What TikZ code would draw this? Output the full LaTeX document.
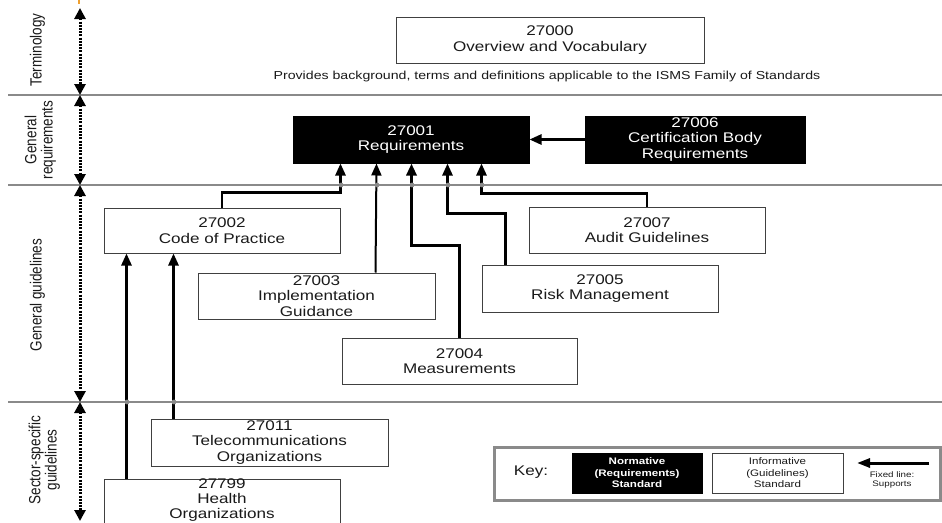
\documentclass[tikz,border=0pt]{standalone}
\usepackage{graphicx}
\usepackage{fontspec}
\setmainfont{Liberation Sans}[FakeStretch=1.22]
\newfontfamily\rotfont{Liberation Sans}
\usetikzlibrary{arrows.meta}
\definecolor{sepgray}{HTML}{8A8A8A}
\definecolor{boxline}{HTML}{404040}
\definecolor{txt}{HTML}{1A1A1A}
\definecolor{orangemark}{HTML}{F0A030}
\newcommand\rotlab[1]{\scalebox{1}[1.2]{\rotfont\fontsize{13.5}{12.5}\selectfont\begin{tabular}{@{}c@{}}#1\end{tabular}}}
\begin{document}
\begin{tikzpicture}[x=1pt,y=-1pt,
  stdbox/.style={draw=boxline, line width=1pt, fill=white, align=center, inner sep=0pt, text=txt, font=\fontsize{14}{15.5}\selectfont},
  normbox/.style={draw=black, line width=1pt, fill=black, align=center, inner sep=0pt, text=white, font=\fontsize{14}{15.5}\selectfont},
  sepline/.style={draw=sepgray, line width=2pt},
  dotarrow/.style={line width=3pt, dash pattern=on 2pt off 1.2pt, {Triangle[width=11pt,length=11pt]}-{Triangle[width=11pt,length=11pt]}},
  conn/.style={line width=2.6pt, -{Triangle[width=10pt,length=12pt]}},
  sidelabel/.style={rotate=90, align=center, text=txt, inner sep=0pt}
]
\useasboundingbox (0,0) rectangle (942,522);
\clip (0,0) rectangle (942,522);
\fill[white] (0,0) rectangle (942,522);

% separators
\draw[sepline] (8,95) -- (942,95);
\draw[sepline] (8,185) -- (942,185);
\draw[sepline] (8,402) -- (942,402);

% orange mark
\draw[orangemark, line width=2pt] (79,0) -- (79,4);

% scale arrows
\coordinate (s0) at (80,8);
\coordinate (s1) at (80,95);
\coordinate (s2) at (80,185);
\coordinate (s3) at (80,402);
\coordinate (s4) at (80,521);
\draw[dotarrow] (s0) -- (s1);
\draw[dotarrow] (s1) -- (s2);
\draw[dotarrow] (s2) -- (s3);
\draw[dotarrow] (s3) -- (s4);

% side labels
\node[sidelabel] (lterm) at (38,50) {\rotlab{Terminology}};
\node[sidelabel] (lgreq) at (41,140) {\rotlab{General\\requirements}};
\node[sidelabel] (lggui) at (38,295) {\rotlab{General guidelines}};
\node[sidelabel] (lsect) at (45,460) {\rotlab{Sector-specific\\guidelines}};

% boxes
\node[stdbox, minimum width=308pt, minimum height=46pt] (n0) at (550,40) {27000\\Overview and Vocabulary};
\node[text=txt, font=\fontsize{11.6}{13}\selectfont] (cap) at (547,76) {Provides background, terms and definitions applicable to the ISMS Family of Standards};
\node[normbox, minimum width=236pt, minimum height=47pt] (n1) at (411,139.5) {27001\\Requirements};
\node[normbox, minimum width=220pt, minimum height=47pt] (n6) at (695,139.5) {27006\\Certification Body\\Requirements};
\node[stdbox, minimum width=236pt, minimum height=45pt] (n2) at (222,230.5) {27002\\Code of Practice};
\node[stdbox, minimum width=237pt, minimum height=46pt] (n3) at (316.5,296) {27003\\Implementation\\Guidance};
\node[stdbox, minimum width=235pt, minimum height=46pt] (n4) at (459.5,361) {27004\\Measurements};
\node[stdbox, minimum width=236pt, minimum height=47pt] (n5) at (600,288.5) {27005\\Risk Management};
\node[stdbox, minimum width=236pt, minimum height=46pt] (n7) at (647,230) {27007\\Audit Guidelines};
\node[stdbox, minimum width=237pt, minimum height=47pt] (n11) at (269.5,442.5) {27011\\Telecommunications\\Organizations};
\node[stdbox, minimum width=236pt, minimum height=47pt, anchor=north] (n99) at (222,479) {};
\node[text=txt, align=center, inner sep=0pt, font=\fontsize{14}{15}\selectfont, anchor=south] (n99t) at (222,521.5) {27799\\Health\\Organizations};

% connectors
\draw[conn] (n6.west) -- (n1.east);
\draw[conn] (n2.north) -- ++(0,-15) -| ([xshift=48pt]n1.south west);
\draw[conn, line width=2pt] ([xshift=178pt]n3.north west) -- ([xshift=84pt]n1.south west);
\draw[conn, line width=3.4pt] (n4.north) -- ++(0,-92) -| ([xshift=119pt]n1.south west);
\draw[conn] ([xshift=24pt]n5.north west) -- ++(0,-51) -| ([xshift=155pt]n1.south west);
\draw[conn] (n7.north) -- ++(0,-13) -| ([xshift=189pt]n1.south west);
\draw[conn] ([xshift=23pt]n11.north west) -- ([xshift=70pt]n2.south west);
\draw[conn] ([xshift=23pt]n99.north west) -- ([xshift=23pt]n2.south west);

% junction dots
\foreach \jx in {341,377,412,448,482} \fill[sepgray] (\jx,185) circle (2.4pt);
\foreach \jx in {127,174} \fill[sepgray] (\jx,402) circle (2.4pt);

% key
\node[draw=sepgray, line width=3pt, minimum width=446pt, minimum height=53pt, inner sep=0pt] (key) at (717,473.5) {};
\node[text=txt, font=\fontsize{14}{16}\selectfont] (keylab) at (531,472) {Key:};
\node[normbox, minimum width=130pt, minimum height=40pt, font=\bfseries\fontsize{9.5}{11.5}\selectfont] (kn) at (637,473) {Normative\\(Requirements)\\Standard};
\node[stdbox, minimum width=131pt, minimum height=40pt, font=\fontsize{9.5}{11.5}\selectfont] (ki) at (777.5,473) {Informative\\(Guidelines)\\Standard};
\coordinate (ka) at (929,463);
\coordinate (kb) at (857,463);
\draw[line width=3pt, -{Triangle[width=9pt,length=13pt]}] (ka) -- (kb);
\node[font=\fontsize{8}{9}\selectfont, align=center, text=txt] (kt) at (892,480) {Fixed line:\\Supports};
\end{tikzpicture}
\end{document}
